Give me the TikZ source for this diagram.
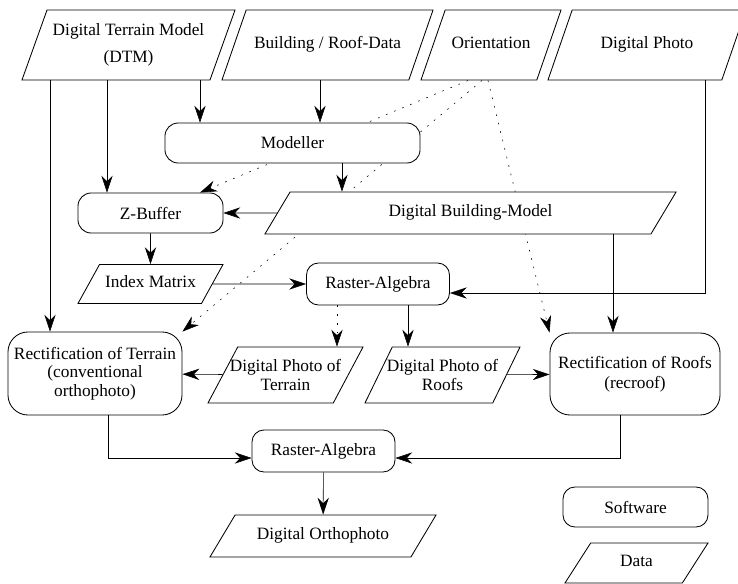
\documentclass[tikz,border=0pt]{standalone}
\usepackage{fontspec}
\setmainfont{Liberation Serif}
\usetikzlibrary{arrows.meta,calc,shapes.geometric,backgrounds}

\begin{document}
\begin{tikzpicture}[
    x=0.025cm, y=-0.025cm, line width=0.6pt,
    font=\fontsize{12.3}{14}\selectfont,
    box/.style={rectangle, draw, fill=white, align=center, inner sep=2pt, rounded corners=0.33cm},
    data/.style={trapezium, trapezium left angle=#1, trapezium right angle=180-#1, trapezium stretches body=true, draw, fill=white, align=center, inner xsep=2pt},
    single/.style={text height=0.7em, text depth=0.25em},
    arrow/.style={-{Stealth[length=4.2mm, width=2.8mm]}},
    dotarrow/.style={arrow, dash pattern=on 1.2pt off 5pt}
]
    \useasboundingbox (0,0) rectangle (738,584);

    % Input data
    \node[data=70, minimum width=5.325cm, minimum height=1.75cm, inner ysep=9.4pt] (dtm) at (128.5,45) {Digital Terrain Model\\[5pt](DTM)};
    \node[data=70, single, minimum width=5.275cm, minimum height=1.75cm, inner ysep=18.9pt] (brd) at (327.5,45) {Building / Roof-Data};
    \node[data=70, single, minimum width=3.5cm, minimum height=1.75cm, inner ysep=18.9pt] (ori) at (491,45) {Orientation};
    \node[data=70, single, minimum width=4.95cm, minimum height=1.75cm, inner ysep=18.9pt] (photo) at (647,45) {Digital Photo};

    % Software and intermediate data
    \node[box, minimum width=6.375cm, minimum height=1cm] (mod) at (292.5,143) {Modeller};
    \node[box, minimum width=3.625cm, minimum height=1cm] (zbuf) at (150.5,213) {Z-Buffer};
    \node[data=57, single, minimum width=10.275cm, minimum height=1.05cm, inner ysep=9pt] (bdm) at (470.5,213) {Digital Building-Model};
    \node[data=59, single, minimum width=3.625cm, minimum height=0.975cm, inner ysep=8pt] (idx) at (150.5,284) {Index Matrix};
    \node[box, minimum width=3.575cm, minimum height=1.05cm, rounded corners=0.3cm] (raup) at (378,284) {Raster-Algebra};
    \node[box, minimum width=4.35cm, minimum height=2.075cm, rounded corners=0.5cm, font=\fontsize{12.3}{13}\selectfont] (rter) at (95,373.5) {Rectification of Terrain\\(conventional\\orthophoto)};
    \node[data=62, minimum width=3.875cm, minimum height=1.4cm, inner xsep=-0.22cm, inner ysep=8.5pt] (dpt) at (285.5,375) {Digital Photo of\\Terrain};
    \node[data=64, minimum width=3.875cm, minimum height=1.4cm, inner xsep=-0.16cm, inner ysep=8.5pt] (dpr) at (442.5,375) {Digital Photo of\\Roofs};
    \node[box, minimum width=4.25cm, minimum height=2.05cm, rounded corners=0.5cm] (rroof) at (635,374) {Rectification of Roofs\\(recroof)};
    \node[box, minimum width=3.575cm, minimum height=1.05cm, rounded corners=0.3cm] (ralo) at (323.5,451) {Raster-Algebra};
    \node[data=57, single, minimum width=5.65cm, minimum height=1.05cm, inner ysep=9pt] (ortho) at (323,536) {Digital Orthophoto};

    % Legend
    \node[box, minimum width=3.625cm, minimum height=1cm, rounded corners=0.3cm] (soft) at (635.5,507) {Software};
    \node[data=55, single, minimum width=3.575cm, minimum height=1cm, inner ysep=8.3pt] (data) at (636.5,563) {Data};

    % Orientation lines (behind the boxes)
    \coordinate (o1) at ($(ori.center)+(-23,0)$);
    \coordinate (o2) at ($(ori.center)+(-9,0)$);
    \coordinate (o3) at ($(ori.center)+(-3,0)$);
    \begin{pgfonlayer}{background}
        \draw[dotarrow] (o1 |- ori.south) -- ($(zbuf.north)+(49.5,0)$);
        \draw[dotarrow] (o2 |- ori.south) -- (rter.north east);
        \draw[dotarrow] (o3 |- ori.south) -- (rroof.north west);
    \end{pgfonlayer}

    % DTM and roof data
    \coordinate (d1) at ($(dtm.center)+(-78.5,0)$);
    \coordinate (d2) at ($(dtm.center)+(-21.5,0)$);
    \coordinate (d3) at ($(dtm.center)+(71.5,0)$);
    \coordinate (b1) at ($(brd.center)+(-7.5,0)$);
    \draw[arrow] (d1 |- dtm.south) -- (d1 |- rter.north);
    \draw[arrow] (d2 |- dtm.south) -- (d2 |- zbuf.north);
    \draw[arrow] (d3 |- dtm.south) -- (d3 |- mod.north);
    \draw[arrow] (b1 |- brd.south) -- (b1 |- mod.north);

    % Modeller, Z-Buffer, building model
    \coordinate (m1) at ($(mod.center)+(49.5,0)$);
    \draw[arrow] (m1 |- mod.south) -- (m1 |- bdm.north);
    \draw[arrow] (bdm) -- (zbuf);
    \draw[arrow] (zbuf) -- (idx);
    \draw[arrow] (idx) -- (raup);
    \coordinate (p1) at ($(photo.center)+(58,0)$);
    \draw[arrow] (p1 |- photo.south) |- ($(raup.east)+(0,9)$);
    \coordinate (g1) at ($(bdm.center)+(142.5,0)$);
    \draw[arrow] (g1 |- bdm.south) -- (g1 |- rroof.north);

    % Raster-Algebra outputs
    \coordinate (r1) at ($(raup.center)+(-41,0)$);
    \coordinate (r2) at ($(raup.center)+(30,0)$);
    \draw[dotarrow] (r1 |- raup.south) -- (r1 |- dpt.north);
    \draw[arrow] (r2 |- raup.south) -- (r2 |- dpr.north);
    \draw[arrow] (dpt) -- (rter);
    \draw[arrow] (dpr) -- (rroof);

    % Merge to orthophoto
    \coordinate (t1) at ($(rter.center)+(13,0)$);
    \coordinate (t2) at ($(rroof.center)+(-15,0)$);
    \draw[arrow] (t1 |- rter.south) |- ($(ralo.west)+(0,7)$);
    \draw[arrow] (t2 |- rroof.south) |- ($(ralo.east)+(0,7)$);
    \draw[arrow] (ralo) -- (ortho);
\end{tikzpicture}
\end{document}
